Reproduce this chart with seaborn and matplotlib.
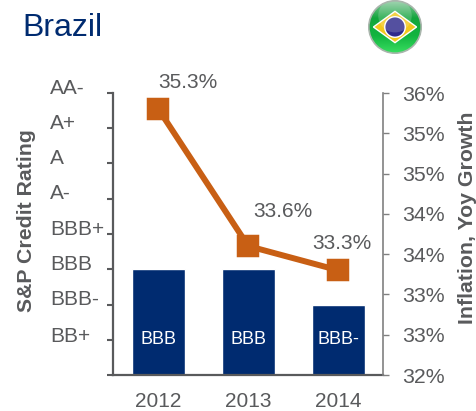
"""Brazil credit rating vs inflation combo chart."""

import numpy as np
import pandas as pd
import matplotlib
matplotlib.use("Agg")
import matplotlib.pyplot as plt
from matplotlib.patches import Circle, Polygon
import seaborn as sns

years = ["2012", "2013", "2014"]
rating_levels = [3, 3, 2]
rating_names = ["BBB", "BBB", "BBB-"]
inflation = [35.3, 33.6, 33.3]
inflation_labels = ["35.3%", "33.6%", "33.3%"]

left_ticks = [0, 1, 2, 3, 4, 5, 6, 7, 8]
left_labels = ["BB+", "BBB-", "BBB", "BBB+", "A-", "A", "A+", "AA-"]
right_ticks = [32, 32.5, 33, 33.5, 34, 34.5, 35, 35.5]
right_labels = ["32%", "33%", "33%", "34%", "34%", "35%", "35%", "36%"]

NAVY = "#002B70"
ORANGE = "#C85F14"
GREY = "#595A5C"
W, H = 477, 411

sns.set_style("white")
plt.rcParams["font.family"] = ["Liberation Sans", "DejaVu Sans"]

df = pd.DataFrame({"year": years, "rating": rating_levels, "inflation": inflation})

fig = plt.figure(figsize=(W / 100, H / 100), dpi=100)
ax = fig.add_axes([113.5 / W, (H - 375) / H, (383 - 113.5) / W, (375 - 93) / H])

sns.barplot(data=df, x="year", y="rating", color=NAVY, width=0.59, saturation=1, ax=ax)
ax.set_xlim(-0.5, 2.5)
ax.set_ylim(0, 8)
ax.set_xlabel("")
ax.set_ylabel("")
ax.tick_params(axis="x", length=0, pad=12, labelsize=15, labelcolor=GREY)
ax.set_yticks(left_ticks)
ax.set_yticklabels([])
ax.tick_params(axis="y", left=True, length=4.5, width=1.5, color=GREY)

for spine in ["top", "right"]:
    ax.spines[spine].set_visible(False)
for spine in ["left", "bottom"]:
    ax.spines[spine].set_color(GREY)
    ax.spines[spine].set_linewidth(1.6)

# rating names sit left aligned and a little above their ticks
for level, label in enumerate(left_labels, start=1):
    ax.annotate(label, xy=(0, level), xycoords=("axes fraction", "data"),
                xytext=(-63.5 * 0.72, 3.5 if level > 1 else 2), textcoords="offset points",
                ha="left", va="center", fontsize=15, color=GREY)

for i, name in enumerate(rating_names):
    ax.text(i, 1, name, ha="center", va="center", fontsize=13, color="white")

ax2 = ax.twinx()
sns.pointplot(data=df, x="year", y="inflation", color=ORANGE, markers="s",
              markersize=13, linewidth=4.3, ax=ax2, zorder=5)
ax2.set_xlim(-0.5, 2.5)
ax2.set_ylim(32, 35.5)
ax2.set_xlabel("")
ax2.set_ylabel("")
ax2.set_yticks(right_ticks)
ax2.set_yticklabels(right_labels)
ax2.tick_params(axis="y", right=True, left=False, length=4.5, width=1, color="#808080",
                pad=9, labelsize=15.3, labelcolor=GREY)
for spine in ["top", "left", "bottom"]:
    ax2.spines[spine].set_visible(False)
ax2.spines["right"].set_color("#808080")
ax2.spines["right"].set_linewidth(1.2)

label_offsets = [(29, 27), (35, 35), (4, 27)]
for i, text in enumerate(inflation_labels):
    dx, dy = label_offsets[i]
    ax2.annotate(text, xy=(i, inflation[i]), xytext=(dx * 0.72, dy * 0.72),
                 textcoords="offset points", ha="center", va="center",
                 fontsize=15, color=GREY, annotation_clip=False)

fig.text(22 / W, 1 - 28 / H, "Brazil", fontsize=23, color=NAVY, ha="left", va="center")
fig.text(27 / W, 1 - 221 / H, "S&P Credit Rating", fontsize=15.3, fontweight="bold",
         color=GREY, rotation=90, ha="center", va="center")
fig.text(468 / W, 1 - 218 / H, "Inflation, Yoy Growth", fontsize=15.3, fontweight="bold",
         color=GREY, rotation=90, ha="center", va="center")

# small flag icon, top right
flag = fig.add_axes([368 / W, 1 - 54 / H, 54 / W, 54 / H])
flag.set_xlim(-1, 1)
flag.set_ylim(-1, 1)
flag.set_aspect("equal")
flag.axis("off")
ring = Circle((0, 0), 0.97, facecolor="none", edgecolor="#A9B5AC", linewidth=1.2, zorder=6)
shade = np.linspace(0, 1, 100).reshape(-1, 1)
img = flag.imshow(shade, extent=(-1, 1, -1, 1), origin="lower", aspect="auto", zorder=1,
                  cmap=matplotlib.colors.LinearSegmentedColormap.from_list(
                      "flag_green", ["#3ADF62", "#12B53F", "#12A53C", "#8FCBA2"]))
img.set_clip_path(Circle((0, 0), 0.97, transform=flag.transData))
flag.add_patch(Polygon([(-0.8, 0), (0, 0.58), (0.8, 0), (0, -0.58)], facecolor="#F2C81E", zorder=2))
flag.add_patch(Circle((0, 0), 0.38, facecolor="#2F2A8C", zorder=3))
# soft gloss over the top half of the globe
gloss = Circle((0, 0.42), 0.62, facecolor="white", alpha=0.18, edgecolor="none", zorder=4)
flag.add_patch(gloss)
flag.add_patch(ring)

fig.savefig("out.png", dpi=100)
plt.close(fig)
